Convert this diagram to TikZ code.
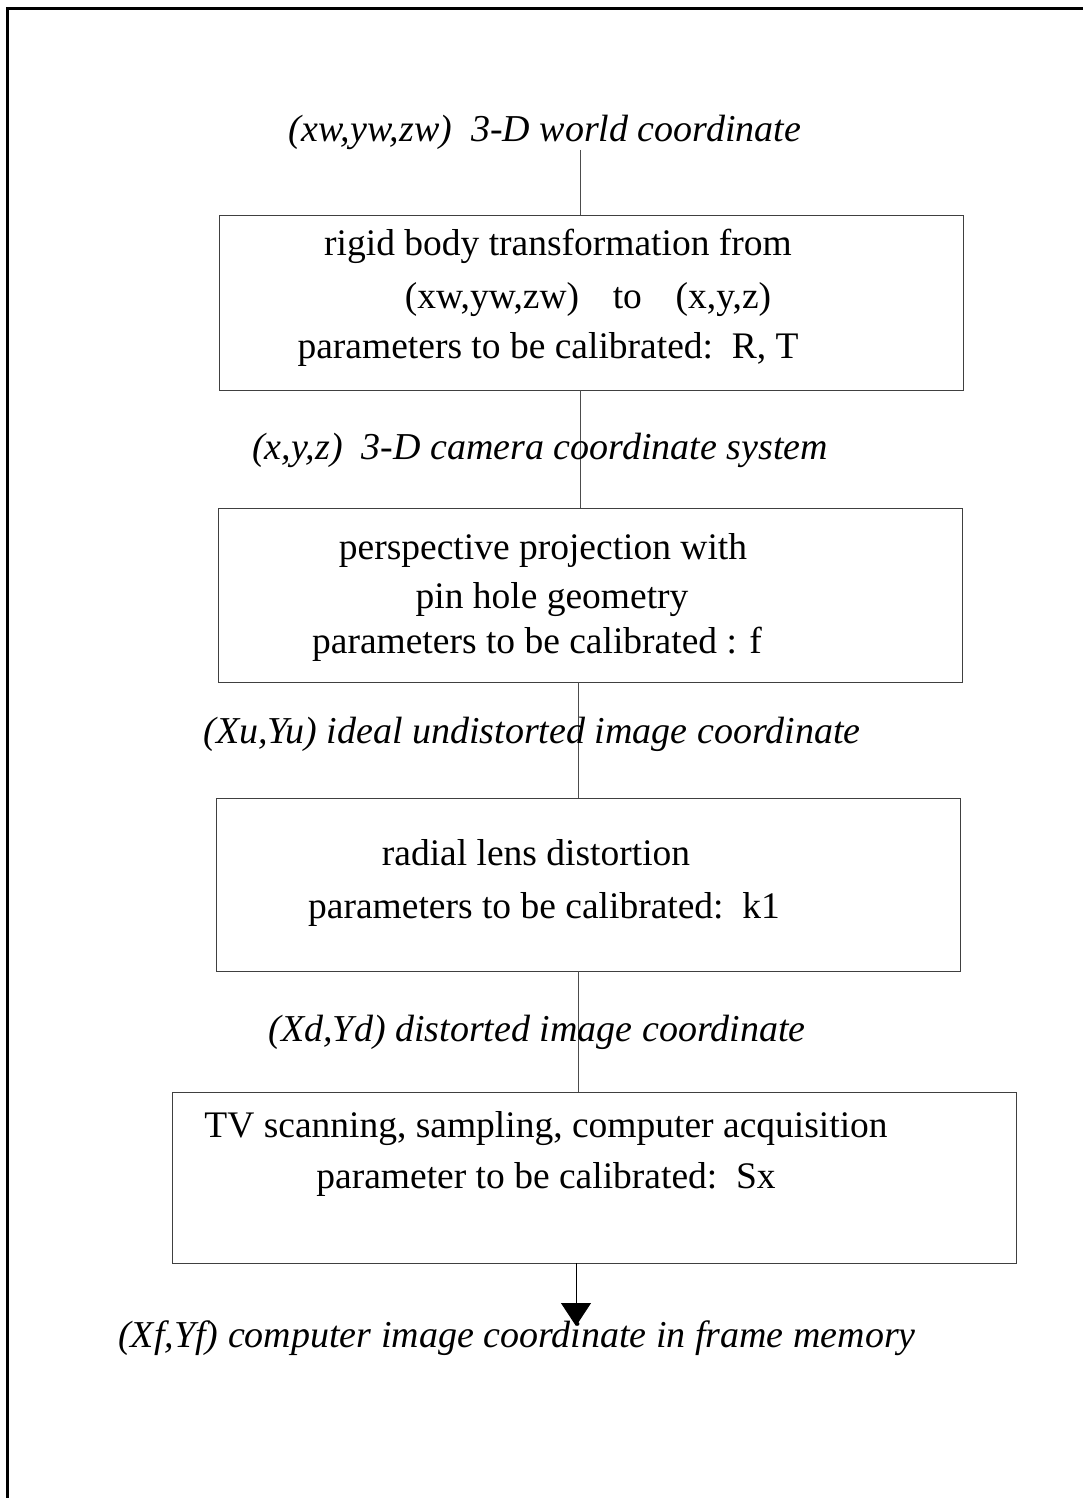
\documentclass[tikz,border=0pt]{standalone}
\usepackage{fontspec}
\setmainfont{Liberation Serif}
\usetikzlibrary{arrows.meta}

\tikzset{
  stage/.style={draw=black!75, line width=1pt, inner sep=0pt, outer sep=0pt, anchor=north west},
  boxtext/.style={anchor=base, inner sep=0pt, font=\fontsize{37.5}{44}\selectfont},
  coordlabel/.style={anchor=base, inner sep=0pt, font=\fontsize{38}{44}\selectfont\itshape},
  link/.style={draw=black!70, line width=0.9pt},
  frameline/.style={line width=3pt, line cap=rect}
}

\begin{document}
\begin{tikzpicture}[x=1pt, y=-1pt]
  \useasboundingbox (0,0) rectangle (1082,1498);

  % page frame (top and left edges)
  \draw[frameline] (1082,9) -- (7,9) -- (7,1498);

  % processing stages
  \node[stage, minimum width=744pt, minimum height=175pt] (b1) at (219,215) {};
  \node[stage, minimum width=744pt, minimum height=174pt] (b2) at (218,508) {};
  \node[stage, minimum width=744pt, minimum height=173pt] (b3) at (216,798) {};
  \node[stage, minimum width=844pt, minimum height=171pt] (b4) at (172,1092) {};

  % spine of the flow
  \coordinate (c0) at (580,150);
  \coordinate (c1) at (580,390);
  \coordinate (c2) at (578,682);
  \coordinate (c3) at (578,971);
  \coordinate (c4) at (576,1263);
  \coordinate (tip) at (576,1326);

  \draw[link] (c0) -- (c0 |- b1.north);
  \draw[link] (c1) -- (c1 |- b2.north);
  \draw[link] (c2) -- (c2 |- b3.north);
  \draw[link] (c3) -- (c3 |- b4.north);

  % coordinate systems between the stages
  \node[coordlabel] (l1) at (545,142) {(xw,yw,zw)\hspace{0.5em}3-D world coordinate};
  \node[coordlabel] (l2) at (540,459) {(x,y,z)\hspace{0.5em}3-D camera coordinate system};
  \node[coordlabel] (l3) at (532,743) {(Xu,Yu) ideal undistorted image coordinate};
  \node[coordlabel] (l4) at (537,1041) {(Xd,Yd) distorted image coordinate};
  \node[coordlabel] (l5) at (517,1347) {(Xf,Yf) computer image coordinate in frame memory};

  % stage contents
  \node[boxtext] (t11) at (558,255) {rigid body transformation from};
  \node[boxtext] (t12) at (588,308) {(xw,yw,zw)\hspace{0.9em}to\hspace{0.9em}(x,y,z)};
  \node[boxtext] (t13) at (548,358) {parameters to be calibrated:\hspace{0.5em}R, T};

  \node[boxtext] (t21) at (543,559) {perspective projection with};
  \node[boxtext] (t22) at (552,608) {pin hole geometry};
  \node[boxtext] (t23) at (537,653) {parameters to be calibrated : f};

  \node[boxtext] (t31) at (536,865) {radial lens distortion};
  \node[boxtext] (t32) at (544,918) {parameters to be calibrated:\hspace{0.5em}k1};

  \node[boxtext] (t41) at (546,1137) {TV scanning, sampling, computer acquisition};
  \node[boxtext] (t42) at (546,1188) {parameter to be calibrated:\hspace{0.5em}Sx};

  % final arrow into frame memory coordinates
  \draw[link, -{Triangle[width=30pt, length=23pt]}, black] (c4) -- (tip);
\end{tikzpicture}
\end{document}
